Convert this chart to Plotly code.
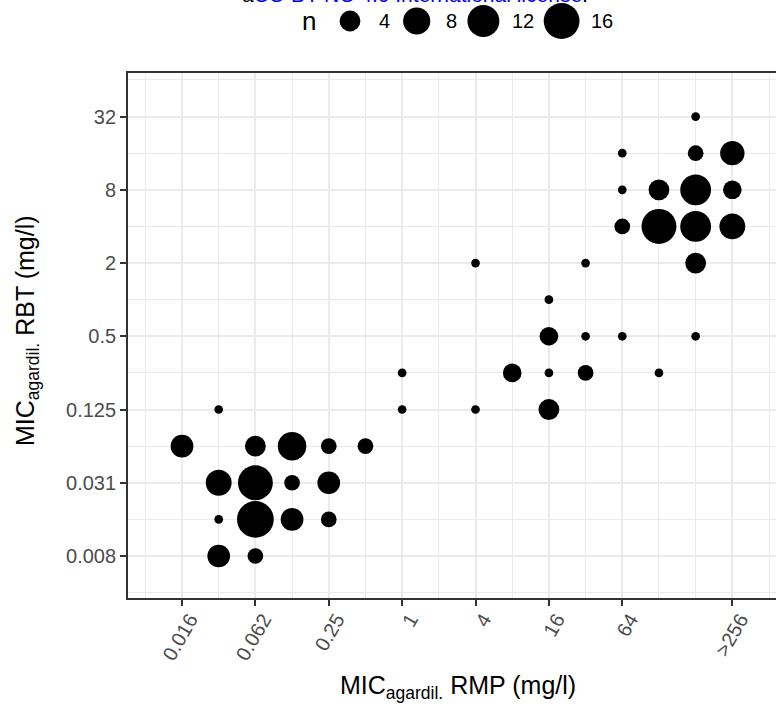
import math
import plotly.graph_objects as go

W, H = 776, 708

# ---------------- data ----------------
# MIC agar dilution, rifampicin (x) and rifabutin (y), mg/l; n = number of isolates
rmp_mic = [0.015625, 0.03125, 0.0625, 0.125, 0.25, 0.5,
           0.03125, 0.0625, 0.125, 0.25,
           0.03125, 0.0625, 0.125, 0.25,
           0.03125, 0.0625,
           1, 1, 4, 4, 8, 16, 16, 16, 16, 32, 32, 32, 64, 128, 256,
           256, 64, 256, 512, 64, 128, 256, 512, 64, 128, 256, 512, 256]
rbt_mic = [0.0625, 0.125, 0.0625, 0.0625, 0.0625, 0.0625,
           0.03125, 0.03125, 0.03125, 0.03125,
           0.015625, 0.015625, 0.015625, 0.015625,
           0.0078125, 0.0078125,
           0.25, 0.125, 0.125, 2, 0.25, 0.25, 0.125, 0.5, 1, 0.25, 0.5, 2, 0.5, 0.25, 0.5,
           32, 16, 16, 16, 8, 8, 8, 8, 4, 4, 4, 4, 2]
n_isolates = [5, 1, 4, 9, 2, 2,
              7, 15, 2, 5,
              1, 17, 5, 2,
              5, 2,
              1, 1, 1, 1, 3, 1, 4, 3, 1, 2, 1, 1, 1, 1, 1,
              1, 1, 2, 6, 1, 4, 11, 3, 2, 15, 11, 7, 4]

x_tick_vals = [0.015625, 0.0625, 0.25, 1, 4, 16, 64, 512]
x_tick_text = ["0.016", "0.062", "0.25", "1", "4", "16", "64", ">256"]
y_tick_vals = [0.0078125, 0.03125, 0.125, 0.5, 2, 8, 32]
y_tick_text = ["0.008", "0.031", "0.125", "0.5", "2", "8", "32"]
legend_breaks = [4, 8, 12, 16]

# ---------------- styling helpers ----------------
def diam(n):
    return 8.7 + 7.0 * math.sqrt(n - 1)

L2 = math.log10(2)
x_range = [-7.472 * L2, 10.19 * L2]
y_range = [-8.147 * L2, 6.19 * L2]
x_minor = [2.0 ** k for k in range(-8, 12)]
y_minor = [2.0 ** k for k in range(-9, 8)]

FONT = "Liberation Sans, Arial, Helvetica, sans-serif"
GRID = "#EBEBEB"
AX = "#333333"
TICKC = "#4D4D4D"

fig = go.Figure()

fig.add_trace(go.Scatter(
    x=rmp_mic, y=rbt_mic, mode="markers",
    marker=dict(size=[diam(n) for n in n_isolates], color="black",
                line=dict(width=0), opacity=1),
    xaxis="x", yaxis="y", showlegend=False, cliponaxis=False,
))

# ---------------- size legend (pixel-unit helper axes) ----------------
leg_x, leg_lab_x = [], []
cx = 350.0
for b in legend_breaks:
    leg_x.append(cx)
    ls = cx + 27
    leg_lab_x.append(ls)
    cx = ls + 11.5 * len(str(b)) + 28.2
leg_y = 21
fig.add_trace(go.Scatter(
    x=leg_x, y=[leg_y] * len(leg_x), mode="markers",
    marker=dict(size=[diam(b) for b in legend_breaks], color="black",
                line=dict(width=0), opacity=1),
    xaxis="x2", yaxis="y2", showlegend=False, cliponaxis=False,
))

annotations = []
annotations.append(dict(x=309, y=leg_y, xref="x2", yref="y2", text="n",
                        showarrow=False, xanchor="center", yanchor="middle",
                        font=dict(size=26, color="black", family=FONT)))
for b, lx in zip(legend_breaks, leg_lab_x):
    annotations.append(dict(x=lx, y=leg_y, xref="x2", yref="y2", text=str(b),
                            showarrow=False, xanchor="left", yanchor="middle",
                            font=dict(size=20, color="black", family=FONT)))

# cut-off licence line at top
annotations.append(dict(
    x=414.5 / W, y=1 - 8 / H, xref="paper", yref="paper",
    text="a<span style='color:#0000FF'>CC-BY-NC 4.0 International license</span>.",
    showarrow=False, xanchor="center", yanchor="bottom",
    font=dict(size=21, color="black", family=FONT)))

# axis titles
annotations.append(dict(
    x=458 / W, y=1 - 686.5 / H, xref="paper", yref="paper",
    text="MIC<sub>agardil.</sub> RMP (mg/l)", showarrow=False,
    xanchor="center", yanchor="middle",
    font=dict(size=25, color="black", family=FONT)))
annotations.append(dict(
    x=27 / W, y=1 - 331 / H, xref="paper", yref="paper",
    text="MIC<sub>agardil.</sub> RBT (mg/l)", showarrow=False, textangle=-90,
    xanchor="center", yanchor="middle",
    font=dict(size=25, color="black", family=FONT)))

fig.update_layout(
    width=W, height=H, autosize=False,
    margin=dict(l=0, r=0, t=0, b=0, pad=0),
    paper_bgcolor="white", plot_bgcolor="white",
    font=dict(family=FONT, color="black"),
    xaxis=dict(
        type="log", range=x_range, domain=[128 / W, 1], anchor="y",
        tickmode="array", tickvals=x_tick_vals, ticktext=x_tick_text,
        tickangle=-60, tickfont=dict(size=20, color=TICKC, family=FONT),
        ticklabelshift=8, ticklabelstandoff=-6,
        ticks="outside", ticklen=6, tickwidth=1.8, tickcolor=AX,
        showgrid=True, gridcolor=GRID, gridwidth=1.8,
        minor=dict(tickmode="array", tickvals=x_minor, showgrid=True,
                   gridcolor=GRID, gridwidth=1.0, ticks=""),
        showline=True, linecolor=AX, linewidth=1.8, mirror=True,
        zeroline=False, automargin=False,
    ),
    yaxis=dict(
        type="log", range=y_range, domain=[110 / H, 635 / H], anchor="x",
        tickmode="array", tickvals=y_tick_vals, ticktext=y_tick_text,
        tickfont=dict(size=20, color=TICKC, family=FONT),
        ticks="outside", ticklen=6, tickwidth=1.8, tickcolor=AX,
        showgrid=True, gridcolor=GRID, gridwidth=1.8,
        minor=dict(tickmode="array", tickvals=y_minor, showgrid=True,
                   gridcolor=GRID, gridwidth=1.0, ticks=""),
        showline=True, linecolor=AX, linewidth=1.8, mirror=False,
        zeroline=False, automargin=False,
    ),
    xaxis2=dict(range=[0, W], domain=[0, 1], anchor="y2", visible=False,
                fixedrange=True),
    yaxis2=dict(range=[45, 0], domain=[1 - 45 / H, 1], anchor="x2",
                visible=False, fixedrange=True),
    annotations=annotations,
    showlegend=False,
)

fig.write_html(
    "out.html",
    config={"displayModeBar": False},
    post_script="document.body.style.margin='0px';"
                "document.body.style.overflow='hidden';",
)
